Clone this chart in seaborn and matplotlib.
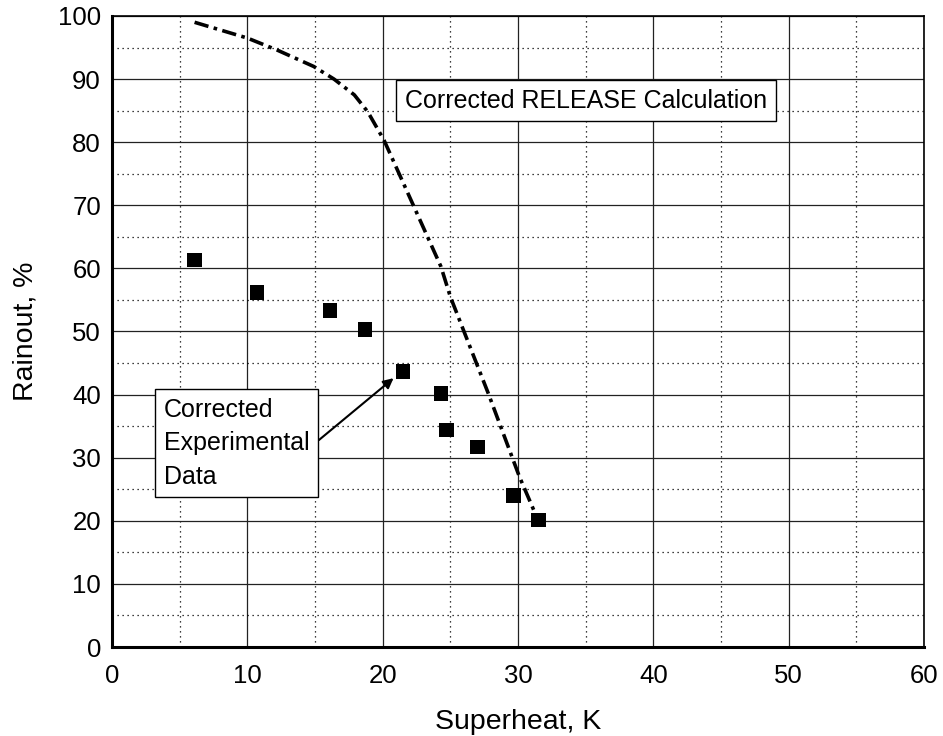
import seaborn as sns
import matplotlib.pyplot as plt
from matplotlib.ticker import MultipleLocator
import pandas as pd

# measured data (corrected experimental)
superheat_exp = [6.1, 10.7, 16.1, 18.7, 21.5, 24.3, 24.7, 27.0, 29.65, 31.5]
rainout_exp = [61.3, 56.2, 53.3, 50.3, 43.7, 40.2, 34.4, 31.7, 24.0, 20.1]

# RELEASE model curve
superheat_calc = [6.1, 10.0, 12.2, 14.9, 16.4, 17.9, 18.9, 20.1, 22.2, 24.3, 25.0, 27.8, 30.1, 31.5]
rainout_calc = [99.0, 96.5, 94.6, 92.0, 90.0, 87.5, 84.8, 80.3, 70.3, 60.3, 55.5, 40.2, 27.0, 20.0]

sns.set_style("white")
plt.rcParams['font.family'] = ['Liberation Sans', 'DejaVu Sans']
plt.rcParams['text.color'] = 'black'
plt.rcParams['axes.labelcolor'] = 'black'
plt.rcParams['xtick.color'] = 'black'
plt.rcParams['ytick.color'] = 'black'

df_exp = pd.DataFrame({'Superheat': superheat_exp, 'Rainout': rainout_exp})
df_calc = pd.DataFrame({'Superheat': superheat_calc, 'Rainout': rainout_calc})

fig = plt.figure(figsize=(9.43, 7.36), dpi=100)
ax = fig.add_axes([0.1188, 0.1209, 0.8611, 0.8574])

ax.xaxis.set_major_locator(MultipleLocator(10))
ax.xaxis.set_minor_locator(MultipleLocator(5))
ax.yaxis.set_major_locator(MultipleLocator(10))
ax.yaxis.set_minor_locator(MultipleLocator(5))
ax.grid(which='major', color='#222222', linewidth=0.9, linestyle='-')
ax.grid(which='minor', color='black', linewidth=0.9, linestyle=(0, (1, 3)))
ax.set_axisbelow(True)

sns.lineplot(data=df_calc, x='Superheat', y='Rainout', ax=ax, color='black',
             linewidth=2.6, sort=False, dashes=False)
ax.lines[-1].set_linestyle((0, (4, 1.5, 1, 1.5)))
sns.scatterplot(data=df_exp, x='Superheat', y='Rainout', ax=ax, marker='s',
                s=110, color='black', edgecolor='none', zorder=5)

ax.set_xlim(0, 60)
ax.set_ylim(0, 100)
ax.set_xlabel('Superheat, K', fontsize=20.5, labelpad=15)
ax.set_ylabel('Rainout, %', fontsize=20.5, labelpad=14)
ax.tick_params(axis='x', which='major', pad=12)
ax.tick_params(axis='y', which='major', pad=8)
ax.tick_params(axis='both', which='major', labelsize=18.5, direction='in', length=4,
               width=1, color='black')
ax.tick_params(which='minor', length=0)

for side in ['left', 'bottom']:
    ax.spines[side].set_linewidth(2.2)
for side in ['top', 'right']:
    ax.spines[side].set_linewidth(1.2)
for sp in ax.spines.values():
    sp.set_color('black')

ax.text(35.0, 86.6, 'Corrected RELEASE Calculation', fontsize=18, ha='center', va='center',
        bbox=dict(boxstyle='square,pad=0.35', facecolor='white', edgecolor='black', linewidth=1))

ax.annotate('Corrected\nExperimental\nData', xy=(20.8, 42.6), xytext=(3.84, 32.3),
            fontsize=18, ha='left', va='center', linespacing=1.5,
            bbox=dict(boxstyle='square,pad=0.35', facecolor='white', edgecolor='black', linewidth=1),
            arrowprops=dict(arrowstyle='-|>', color='black', lw=1.5, mutation_scale=15,
                            shrinkA=0, shrinkB=0, relpos=(1.0, 0.45)))

fig.savefig('out.png', dpi=100)
